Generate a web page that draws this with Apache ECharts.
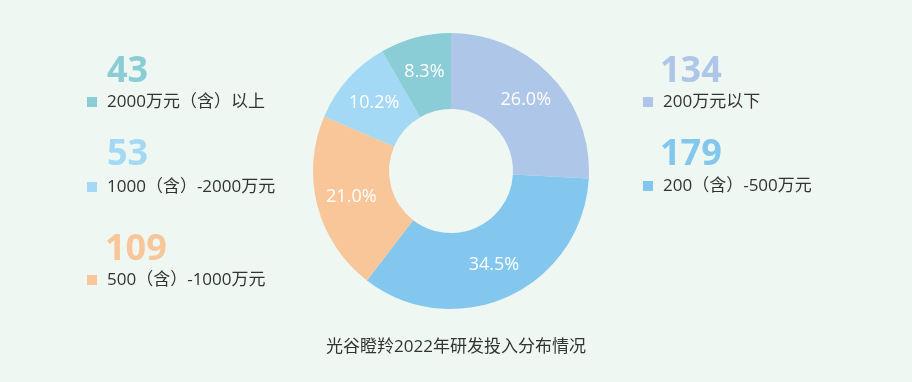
<!DOCTYPE html>
<html>
<head>
<meta charset="utf-8">
<script src="https://cdn.jsdelivr.net/npm/echarts@6/dist/echarts.min.js"></script>
<style>
html,body{margin:0;padding:0;background:#eef7f2;}
#c{width:912px;height:382px;}
</style>
</head>
<body>
<div id="c"></div>
<script>
var categories = ['200万元以下', '200（含）-500万元', '500（含）-1000万元', '1000（含）-2000万元', '2000万元（含）以上'];
var counts = [134, 179, 109, 53, 43];
var percentLabels = ['26.0%', '34.5%', '21.0%', '10.2%', '8.3%'];
var colors = ['#aec7e8', '#83c7ef', '#f8c699', '#a3d9f5', '#8bcdd6'];
var titleText = '光谷瞪羚2022年研发投入分布情况';

// layout of legend blocks (index into categories): [iconLeft, iconCenterY, numberLeft, numberCenterY]
var legendLayout = {
  0: [643, 102, 660, 69],
  1: [643, 186, 660, 152],
  4: [87, 102, 107, 69],
  3: [87, 187, 107, 152],
  2: [87, 280, 105, 247]
};

var chart = echarts.init(document.getElementById('c'));
var font = '"Open Sans", "Noto Sans CJK SC", sans-serif';

var legends = [];
var graphics = [];
Object.keys(legendLayout).forEach(function (k) {
  var i = +k, L = legendLayout[k];
  legends.push({
    data: [categories[i]],
    left: L[0],
    top: L[1] - 10,
    padding: 0,
    orient: 'vertical',
    icon: 'rect',
    itemWidth: 10,
    itemHeight: 10,
    selectedMode: false,
    textStyle: {
      fontFamily: font,
      fontSize: 17,
      lineHeight: 20,
      color: '#333',
      padding: [0, 0, 0, 5]
    }
  });
  graphics.push({
    type: 'text',
    left: L[2],
    top: L[3] - 15,
    style: {
      text: String(counts[i]),
      fill: colors[i],
      font: 'bold 36px "Open Sans", "Noto Sans", sans-serif'
    }
  });
});

chart.setOption({
  backgroundColor: '#eef7f2',
  color: colors,
  title: {
    text: titleText,
    left: 'center',
    top: 337,
    padding: 0,
    textStyle: { fontFamily: font, fontSize: 17, fontWeight: 'normal', color: '#333', lineHeight: 20 }
  },
  legend: legends,
  graphic: graphics,
  series: [{
    type: 'pie',
    center: [451, 171],
    radius: [62, 138],
    startAngle: 90,
    clockwise: true,
    avoidLabelOverlap: false,
    label: {
      show: true,
      position: 'inside',
      color: '#fff',
      fontSize: 18,
      fontFamily: '"Open Sans", "Noto Sans", sans-serif',
      formatter: function (p) { return percentLabels[p.dataIndex]; }
    },
    labelLine: { show: false },
    emphasis: { disabled: true },
    itemStyle: { borderWidth: 0 },
    data: categories.map(function (c, i) { return { name: c, value: counts[i] }; })
  }]
});
</script>
</body>
</html>
